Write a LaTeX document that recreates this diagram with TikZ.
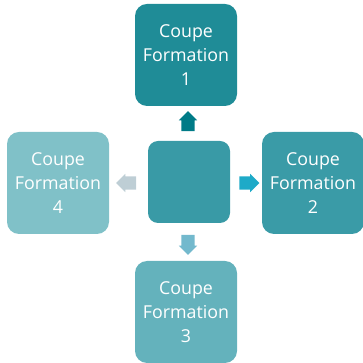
\documentclass[tikz,border=0pt]{standalone}
\usepackage{fontspec}
\setmainfont{Open Sans}
\usetikzlibrary{shapes.arrows}

\definecolor{boxone}{RGB}{31,140,151}
\definecolor{boxtwo}{RGB}{58,155,167}
\definecolor{boxthree}{RGB}{100,178,188}
\definecolor{boxfour}{RGB}{128,193,200}
\definecolor{hubcol}{RGB}{57,154,166}
\definecolor{arrone}{RGB}{0,123,135}
\definecolor{arrtwo}{RGB}{30,170,200}
\definecolor{arrthree}{RGB}{115,185,205}
\definecolor{arrfour}{RGB}{190,206,213}

\begin{document}
\begin{tikzpicture}[x=1pt,y=1pt, line join=round,
    coupe/.style={rounded corners=12pt, minimum width=102pt, minimum height=102pt, inner sep=0pt,
        text=white, align=center, font=\fontsize{17.8}{24}\selectfont},
    hub/.style={rounded corners=10pt, minimum width=82pt, minimum height=82pt, fill=hubcol},
    flech/.style={single arrow, inner sep=6.5pt, single arrow head extend=2.5pt, minimum height=17pt}]
                    \useasboundingbox (0,0) rectangle (363,363);

                    \node [hub] (centre) at (189,181) {};

                    \node [coupe, fill=boxone] (c1) at (186,308) {Coupe\\Formation\\1};
                    \node [coupe, fill=boxtwo] (c2) at (313,180) {Coupe\\Formation\\2};
                    \node [coupe, fill=boxthree] (c3) at (186,51) {Coupe\\Formation\\3};
                    \node [coupe, fill=boxfour] (c4) at (58,180) {Coupe\\Formation\\4};

                    \node [flech, fill=arrone, rotate=90] (f1) at (188,238.5) {};
                    \node [flech, fill=arrtwo] (f2) at (246,180) {};
                    \node [flech, fill=arrthree, rotate=-90] (f3) at (188,121.5) {};
                    \node [flech, fill=arrfour, rotate=180] (f4) at (129.5,180) {};
                \end{tikzpicture}
\end{document}
